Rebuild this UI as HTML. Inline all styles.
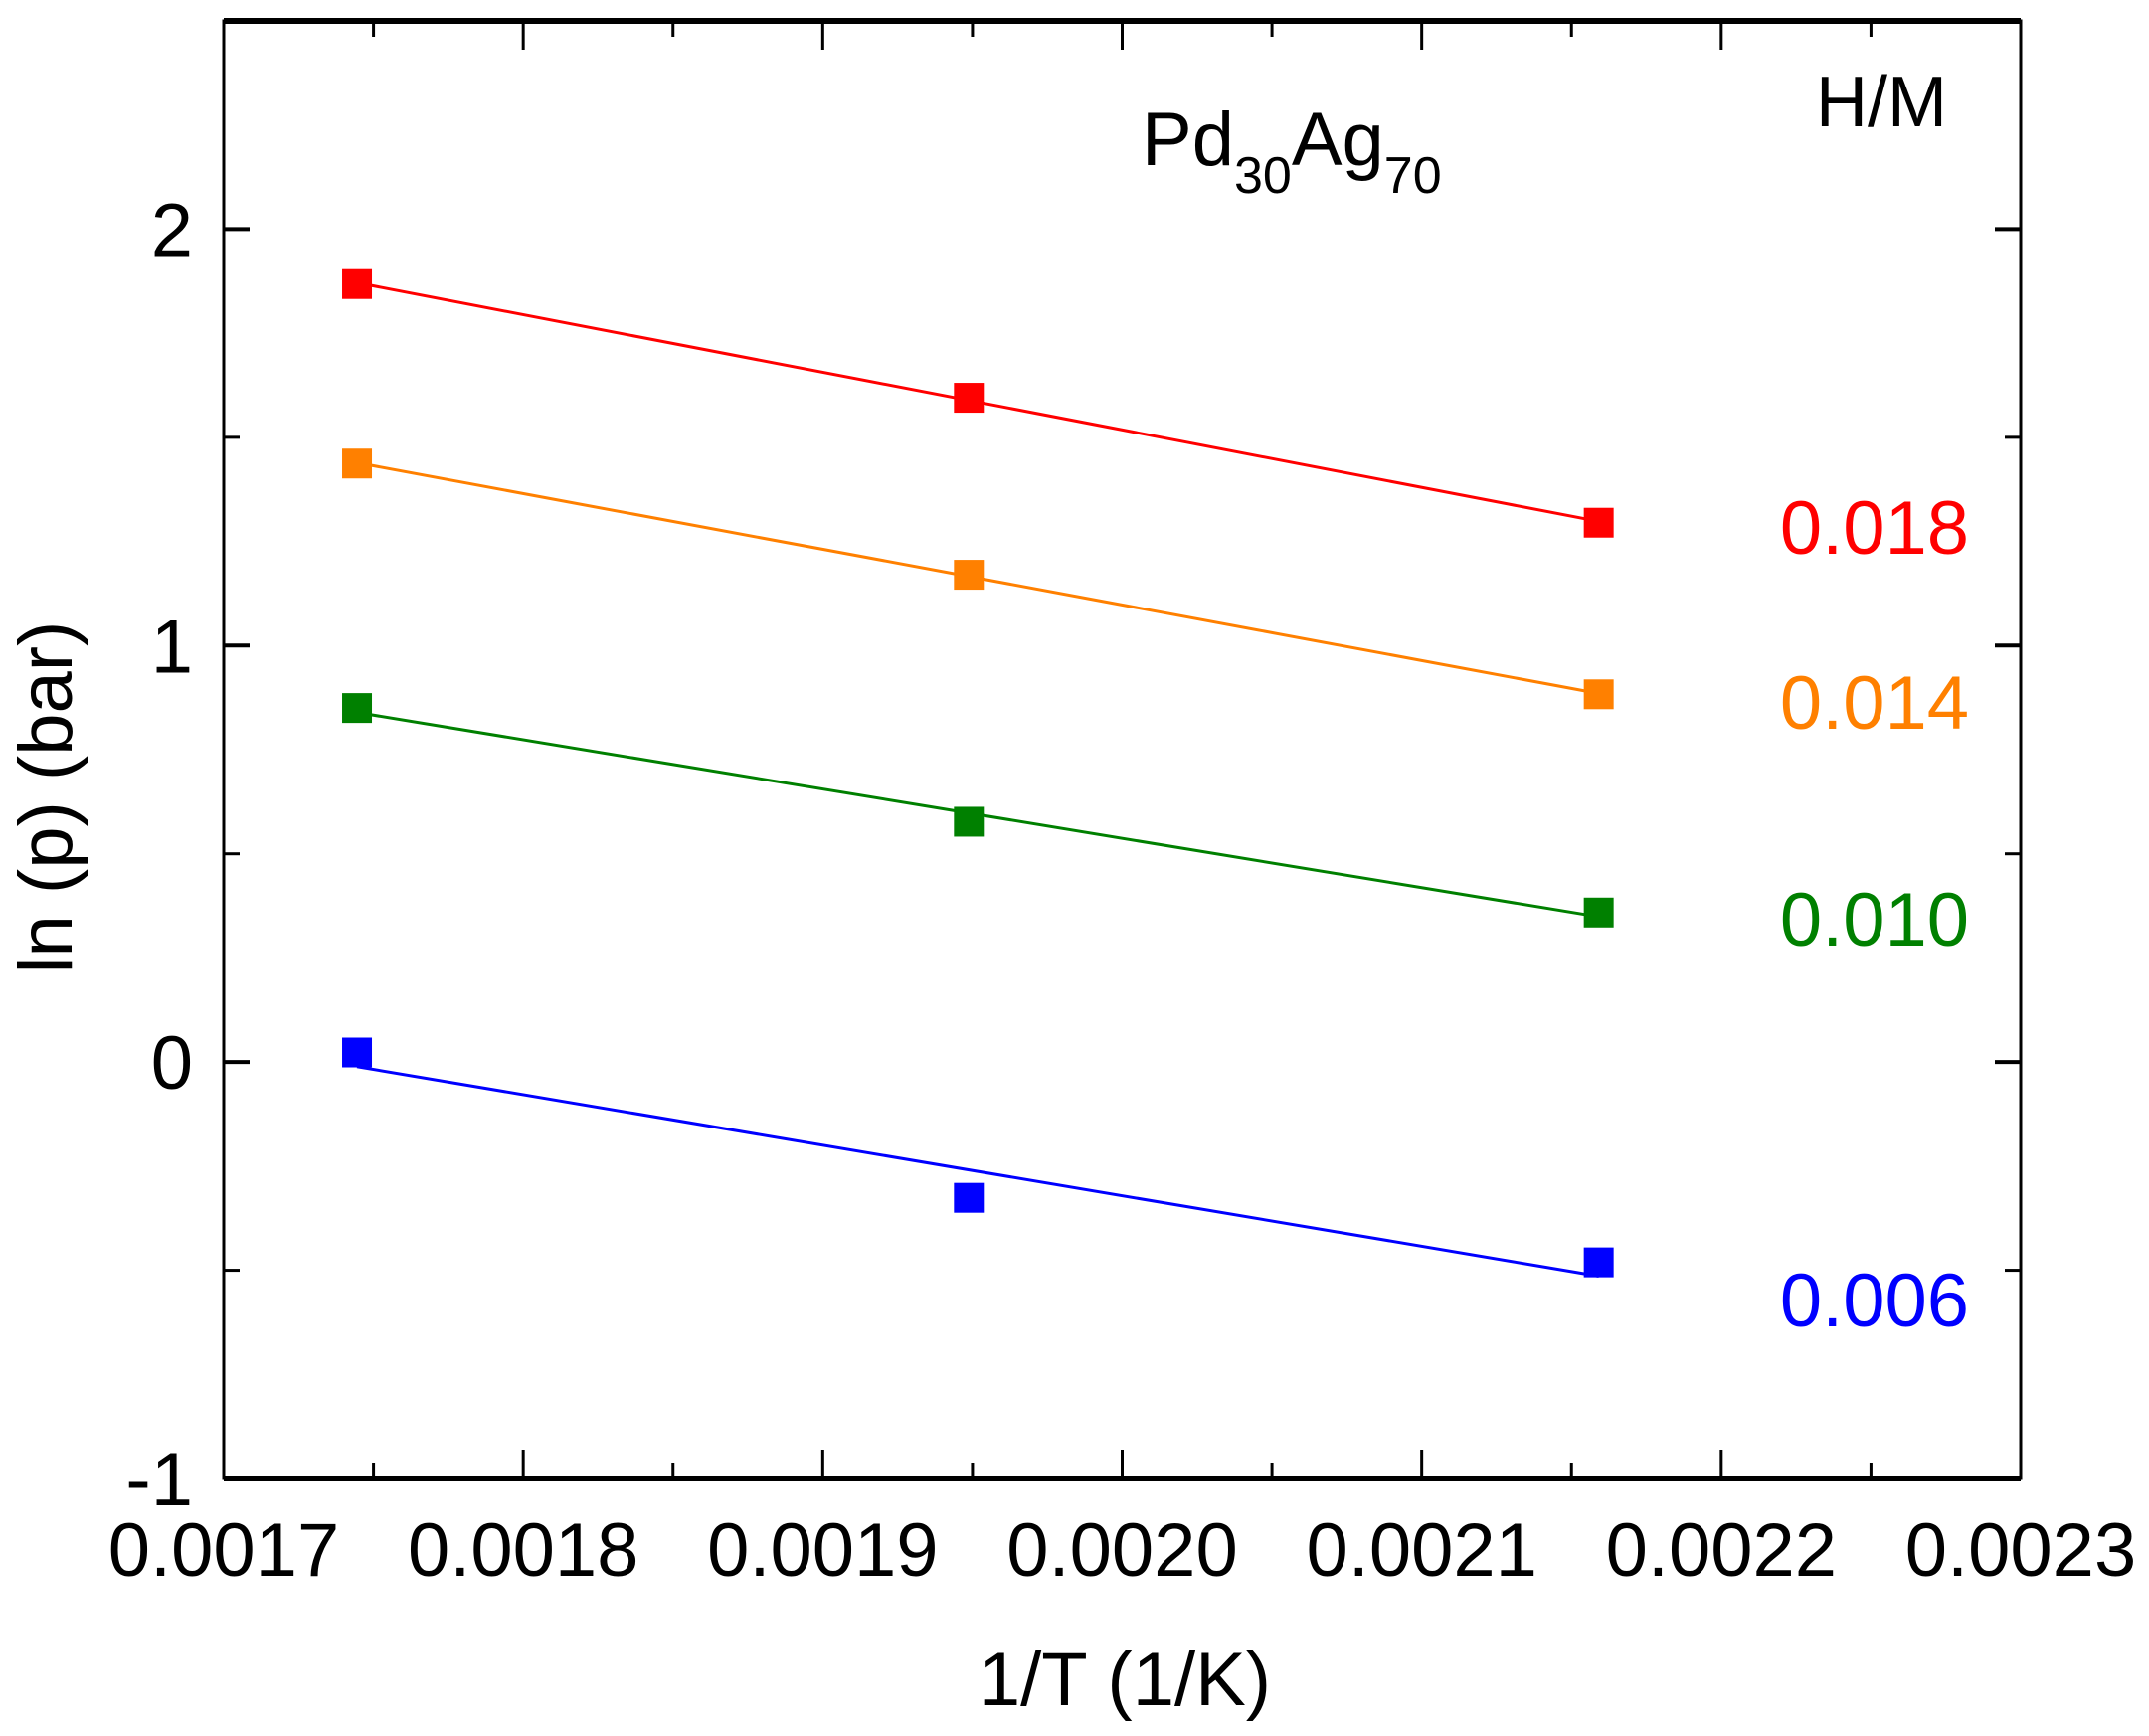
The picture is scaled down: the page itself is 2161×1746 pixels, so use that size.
<!DOCTYPE html>
<html><head><meta charset="utf-8"><style>
html,body{margin:0;padding:0;background:#fff}
svg{display:block;font-family:"Liberation Sans",Arial,sans-serif}
</style></head><body>
<svg id="chart" width="2161" height="1746" viewBox="0 0 2161 1746" xmlns="http://www.w3.org/2000/svg">
<g id="grid-layer"></g>
<g id="series-layer"></g>
<text x="1148" y="166" font-size="76">Pd<tspan font-size="52" dy="28">30</tspan><tspan dy="-28">Ag</tspan><tspan font-size="52" dy="28">70</tspan></text>
<text x="1958" y="127" font-size="72" text-anchor="end">H/M</text>
<text x="1131" y="1715" font-size="76" text-anchor="middle">1/T (1/K)</text>
<text transform="translate(72,802) rotate(-90)" font-size="76" text-anchor="middle">ln (p) (bar)</text>
</svg>
<script>
const xTicks = [0.0017,0.0018,0.0019,0.0020,0.0021,0.0022,0.0023];
const xTickLabels = ["0.0017","0.0018","0.0019","0.0020","0.0021","0.0022","0.0023"];
const yTicks = [-1,0,1,2];
const yTickLabels = ["-1","0","1","2"];
const invT = [0.0017445,0.0019488,0.0021591];
const seriesNames = ["0.018","0.014","0.010","0.006"];
const seriesColors = ["#ff0000","#ff8000","#008000","#0000ff"];
const red = [1.868,1.595,1.295];
const orange = [1.437,1.170,0.883];
const green = [0.850,0.577,0.359];
const blue = [0.023,-0.326,-0.481];
const allSeries = [red,orange,green,blue];
const labelBaselines = [557,733,951,1334];

const L=225,R=2032,T=21,B=1487;
const xMin=0.0017,xMax=0.0023,yMin=-1,yMax=2.5;
const sx=v=>L+(v-xMin)/(xMax-xMin)*(R-L);
const sy=v=>B-(v-yMin)/(yMax-yMin)*(B-T);
const NS="http://www.w3.org/2000/svg";
function mk(tag,attrs,parent){const e=document.createElementNS(NS,tag);for(const k in attrs)e.setAttribute(k,attrs[k]);parent.appendChild(e);return e;}
const g=document.getElementById('grid-layer');
const s=document.getElementById('series-layer');

// frame
let fr=mk('rect',{x:L,y:T,width:R-L,height:B-T,fill:'none',stroke:'#000','stroke-width':3},g);


let bl=mk('line',{x1:L,x2:R,y1:B,y2:B,stroke:'#000','stroke-width':6},g);


let tl=mk('line',{x1:L,x2:R,y1:T,y2:T,stroke:'#000','stroke-width':6},g);



// x ticks
for(let i=0;i<xTicks.length;i++){
  const x=sx(xTicks[i]);
  let t=mk('line',{x1:x,x2:x,y1:B,y2:B-29,stroke:'#000','stroke-width':3},g);
  
  
  let t2=mk('line',{x1:x,x2:x,y1:T,y2:T+29,stroke:'#000','stroke-width':3},g);
  
  
  if(i<xTicks.length-1){
    const xm=sx(xTicks[i]+0.00005);
    let m=mk('line',{x1:xm,x2:xm,y1:B,y2:B-16,stroke:'#000','stroke-width':3},g);
    
    
    let m2=mk('line',{x1:xm,x2:xm,y1:T,y2:T+16,stroke:'#000','stroke-width':3},g);
    
    
  }
  let lb=mk('text',{x:x,y:1585,'font-size':76,'text-anchor':'middle'},g);
  lb.textContent=xTickLabels[i];
  
  
}
// y ticks
for(let v=-1;v<=2.5001;v+=0.5){
  const y=sy(v), major=Math.abs(v-Math.round(v))<1e-6, len=major?26:16;
  let a=mk('line',{x1:L,x2:L+len,y1:y,y2:y,stroke:'#000','stroke-width':major?4:3},g);
  
  
  let b=mk('line',{x1:R,x2:R-len,y1:y,y2:y,stroke:'#000','stroke-width':major?4:3},g);
  
  
}
for(let i=0;i<yTicks.length;i++){
  let lb=mk('text',{x:194,y:sy(yTicks[i])+27,'font-size':76,'text-anchor':'end'},g);
  lb.textContent=yTickLabels[i];
  
  
}
// series
allSeries.forEach((ys,k)=>{
  const n=invT.length;let mx=0,my=0;
  for(let i=0;i<n;i++){mx+=invT[i];my+=ys[i];}mx/=n;my/=n;
  let sxy=0,sxx=0;for(let i=0;i<n;i++){sxy+=(invT[i]-mx)*(ys[i]-my);sxx+=(invT[i]-mx)**2;}
  const m=sxy/sxx,c=my-m*mx;
  const x0=invT[0],x1=invT[n-1];
  let ln=mk('line',{x1:sx(x0),y1:sy(m*x0+c),x2:sx(x1),y2:sy(m*x1+c),stroke:seriesColors[k],'stroke-width':3},s);
  
  
  for(let i=0;i<n;i++){
    let r=mk('rect',{x:sx(invT[i])-15,y:sy(ys[i])-15,width:30,height:30,fill:seriesColors[k]},s);
    
    
  }
  let t=mk('text',{x:1980,y:labelBaselines[k],'font-size':76,'text-anchor':'end',fill:seriesColors[k]},s);
  t.textContent=seriesNames[k];
  
  
});
</script>
</body></html>
